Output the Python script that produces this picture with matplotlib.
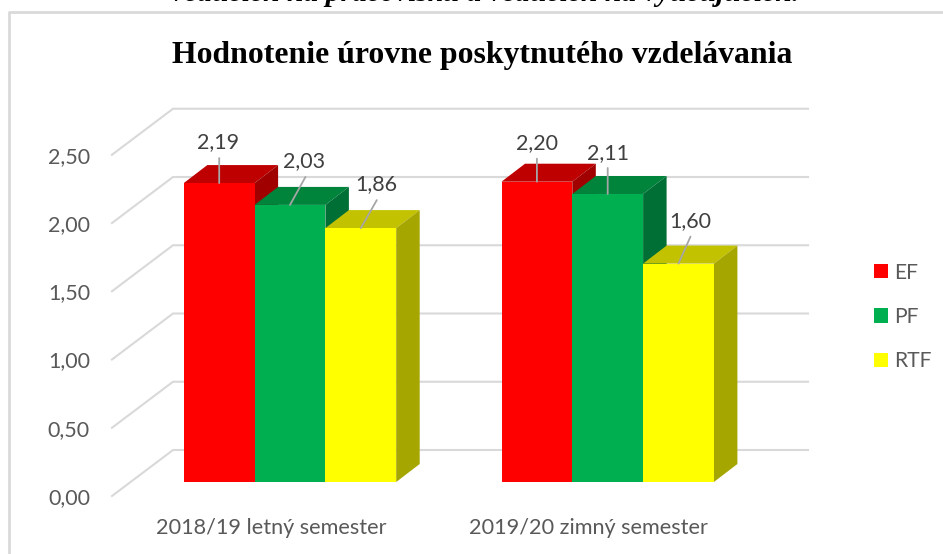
import matplotlib
matplotlib.use('Agg')
import matplotlib.pyplot as plt
from matplotlib.lines import Line2D
from matplotlib.patches import Patch

# Data
categories = ['2018/19 letný semester', '2019/20 zimný semester']
series = ['EF', 'PF', 'RTF']
ef_values = [2.19, 2.20]
pf_values = [2.03, 2.11]
rtf_values = [1.86, 1.60]
value_ticks = [0.0, 0.5, 1.0, 1.5, 2.0, 2.5]
value_tick_labels = ['0,00', '0,50', '1,00', '1,50', '2,00', '2,50']
title = 'Hodnotenie úrovne poskytnutého vzdelávania'
cut_off_text = 'vedúcich na pracovisku a vedúcich na vyučujúcich.'

# Colours per series: front, top, side
front_colors = ['#FF0000', '#00B050', '#FFFF00']
top_colors = ['#BF0000', '#00843C', '#C2C200']
side_colors = ['#A00000', '#006F35', '#A6A600']
grid_color = '#D9D9D9'

W, H = 943, 554
# pixels of one category step / one value unit, and where (0, 0) sits
PX_X, PX_Y = 317.7, 136.5
ORIGIN_X, ORIGIN_Y = 290, 482

BAR_WIDTH = 70.8 / PX_X
DEPTH_X, DEPTH_Y = 23.5 / PX_X, 18 / PX_Y

# floor of the 3D box, in data units
WALL_LEFT, WALL_BACK, WALL_RIGHT = -178 / PX_X, -117 / PX_X, 518 / PX_X
WALL_FRONT_Y, WALL_BACK_Y = -14 / PX_Y, 32 / PX_Y

# label and leader offsets from the top of each bar (pixels), per series then group
label_offsets = [[(-1, 43), (0, 41)], [(14.5, 46), (0, 43)], [(15.5, 46), (12, 45)]]
leader_offsets = [[(0, 25), (0, 23)], [(15.5, 28), (0, 26)], [(16, 28), (12, 27)]]

fig = plt.figure(figsize=(W / 100, H / 100), dpi=100)
ax = fig.add_axes([0, 0, 1, 1])
ax.set_xlim(-ORIGIN_X / PX_X, (W - ORIGIN_X) / PX_X)
ax.set_ylim((ORIGIN_Y - H) / PX_Y, ORIGIN_Y / PX_Y)
ax.axis('off')

plt.rcParams['font.family'] = ['Lato', 'DejaVu Sans']

# Outer frame of the chart, open at the right and bottom
fig.add_artist(Line2D([9 / W, 9 / W, 1], [0, 1 - 12 / H, 1 - 12 / H], color=grid_color, lw=2.0))

# Gridlines: slanted on the left wall, flat on the back wall
for v, lab in zip(value_ticks, value_tick_labels):
    ax.plot([WALL_LEFT, WALL_BACK, WALL_RIGHT], [v + WALL_FRONT_Y, v + WALL_BACK_Y, v + WALL_BACK_Y],
            color=grid_color, lw=1.5, zorder=1, solid_joinstyle='miter')
    ax.text(WALL_LEFT - 22 / PX_X, v + WALL_FRONT_Y, lab, ha='right', va='center_baseline',
            fontsize=15.5, color='#595959')

# Bars
all_values = [ef_values, pf_values, rtf_values]
for s, values in enumerate(all_values):
    for c, val in enumerate(values):
        left = c + (s - 1.5) * BAR_WIDTH
        right = left + BAR_WIDTH
        z = 3 + c * 3 + s * 3
        ax.fill([left, right, right + DEPTH_X, left + DEPTH_X],
                [val, val, val + DEPTH_Y, val + DEPTH_Y], color=top_colors[s], lw=0, zorder=z)
        ax.fill([right, right + DEPTH_X, right + DEPTH_X, right],
                [0, DEPTH_Y, val + DEPTH_Y, val], color=side_colors[s], lw=0, zorder=z)
        ax.bar(c + (s - 1) * BAR_WIDTH, val, BAR_WIDTH, color=front_colors[s], lw=0, zorder=z + 1)

# Data labels with leader lines (drawn above all bars)
for s, values in enumerate(all_values):
    for c, val in enumerate(values):
        x = c + (s - 1) * BAR_WIDTH
        ax.annotate('', xy=(x, val), xytext=leader_offsets[s][c], textcoords='offset pixels',
                    arrowprops=dict(arrowstyle='-', color='#A6A6A6', lw=1.3, shrinkA=0, shrinkB=0),
                    zorder=30)
        ax.annotate(f'{val:.2f}'.replace('.', ','), xy=(x, val), xytext=label_offsets[s][c],
                    textcoords='offset pixels', ha='center', va='center_baseline',
                    fontsize=15.5, color='#404040', zorder=31)

# Category labels sit on the front edge of the floor
for c, lab in enumerate(categories):
    ax.text(c - 19 / PX_X, -44 / PX_Y, lab, ha='center', va='center_baseline', fontsize=15.6, color='#595959')

# Legend
handles = [Patch(color=col, lw=0) for col in front_colors]
fig.legend(handles, series, loc='center left', bbox_to_anchor=(874 / W, 1 - 317 / H),
           frameon=False, fontsize=15.2, labelcolor='#595959', handlelength=0.66, handleheight=0.66,
           handletextpad=0.3, labelspacing=1.16, borderpad=0, borderaxespad=0)

# Titles
fig.text(482.5 / W, 1 - 55 / H, title, ha='center', va='center', family='Liberation Serif',
         weight='bold', fontsize=22.9, color='black')
fig.text(485 / W, 1 - 1 / H, cut_off_text, ha='center', va='baseline', family='Liberation Serif',
         weight='bold', style='italic', fontsize=21.3, color='black')

fig.savefig('out.png', dpi=100)
plt.close()
